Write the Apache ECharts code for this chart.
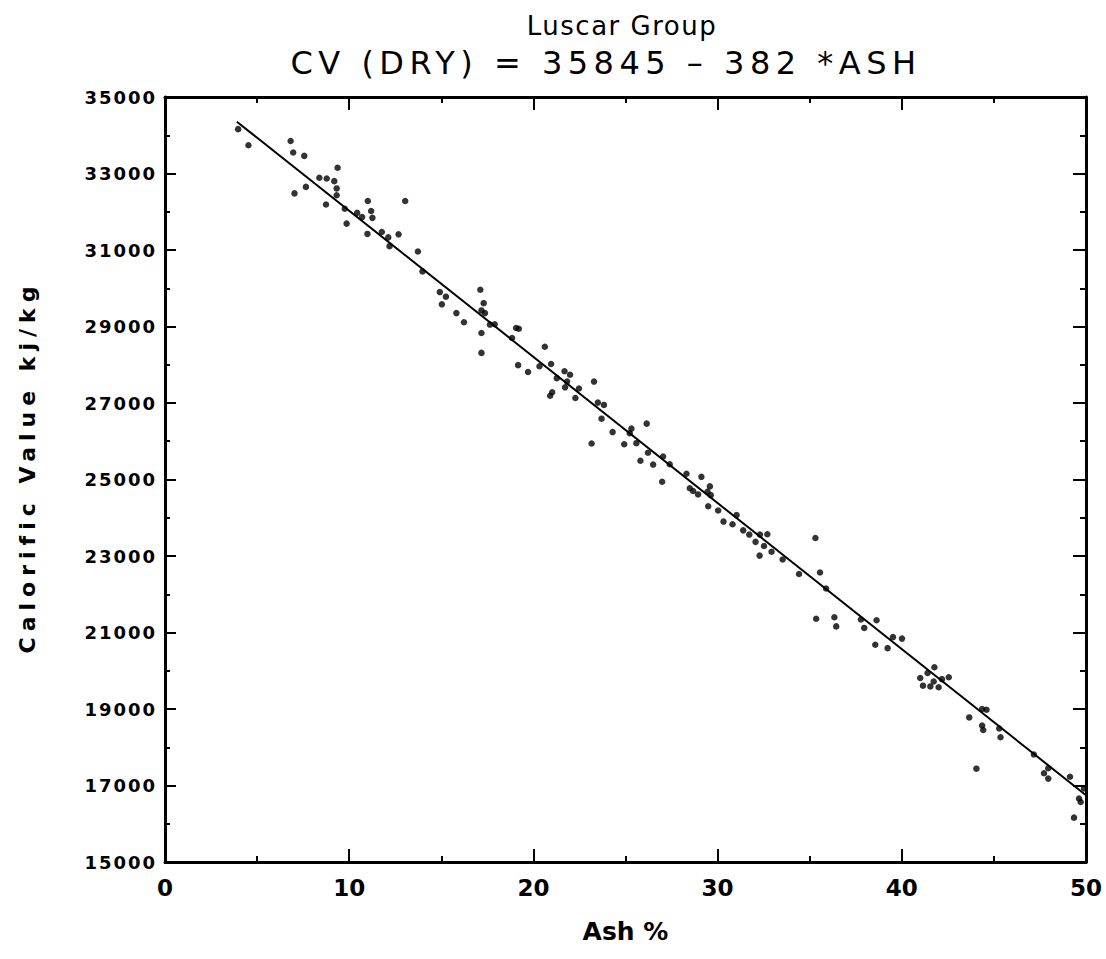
<!DOCTYPE html>
<html>
<head>
<meta charset="utf-8">
<title>Luscar Group</title>
<script src="https://cdn.jsdelivr.net/npm/echarts@6/dist/echarts.min.js"></script>
<style>
  html, body { margin: 0; padding: 0; background: #fff; }
  #chart { width: 1106px; height: 959px; }
  /* plotter-style wide lettering, keyed on each text role's font size */
  #chart text[style*="26px"] { letter-spacing: 1.5px; }
  #chart text[style*="32px"] { letter-spacing: 5.5px; }
  #chart text[style*="18px"] { letter-spacing: 2px; }
  #chart text[style*="22px"] { letter-spacing: 6px; }
</style>
</head>
<body>
<div id="chart"></div>
<script>
// Ash content (%) of each sample
const ash = [
  3.97, 4.53, 6.82, 6.96, 7.56, 7.03, 7.65, 8.38, 8.78, 9.19,
  9.37, 9.32, 9.32, 8.74, 9.76, 9.86, 10.43, 10.70, 11.01, 11.19,
  11.26, 10.99, 11.77, 12.12, 12.19, 12.68, 13.04, 13.73, 13.98, 14.92,
  15.25, 15.03, 15.82, 16.23, 17.12, 17.30, 17.18, 17.37, 17.18, 17.18,
  17.64, 17.90, 19.06, 19.21, 18.84, 19.17, 19.71, 20.62, 20.33, 20.96,
  21.27, 21.69, 21.99, 21.72, 21.83, 20.91, 21.02, 22.47, 22.28, 23.29,
  23.50, 23.83, 23.70, 24.30, 23.16, 24.93, 25.32, 25.23, 25.59, 26.15,
  26.22, 25.81, 26.50, 27.04, 27.40, 26.99, 28.31, 29.12, 28.49, 29.58,
  28.67, 28.94, 29.45, 29.63, 29.49, 30.03, 30.32, 30.81, 31.03, 31.39,
  31.72, 32.06, 32.28, 32.30, 32.70, 32.52, 32.93, 33.53, 34.42, 35.31,
  35.56, 35.89, 35.35, 36.34, 36.44, 37.78, 37.96, 38.63, 39.52, 40.01,
  38.56, 39.23, 41.00, 41.15, 41.40, 41.77, 41.55, 41.73, 42.00, 42.18,
  42.55, 43.66, 44.36, 44.60, 44.36, 44.42, 45.29, 45.36, 44.05, 47.17,
  47.72, 47.95, 47.95, 49.13, 49.89, 49.62, 49.71, 49.35
];

// Calorific value (dry basis, kJ/kg) of each sample
const cv = [
  34160, 33740, 33850, 33550, 33460, 32480, 32650, 32890, 32870, 32800,
  33150, 32610, 32430, 32190, 32080, 31690, 31970, 31860, 32280, 32020,
  31840, 31420, 31470, 31330, 31100, 31410, 32280, 30960, 30440, 29900,
  29780, 29580, 29350, 29110, 29960, 29610, 29420, 29350, 28830, 28310,
  29050, 29060, 28960, 28940, 28700, 27990, 27810, 28470, 27960, 28020,
  27650, 27830, 27740, 27410, 27560, 27190, 27280, 27380, 27130, 27560,
  27010, 26950, 26590, 26240, 25940, 25920, 26330, 26210, 25950, 26460,
  25700, 25490, 25390, 25600, 25400, 24940, 25150, 25070, 24770, 24820,
  24700, 24610, 24680, 24590, 24300, 24190, 23900, 23830, 24070, 23670,
  23560, 23370, 23010, 23560, 23570, 23260, 23110, 22910, 22530, 23470,
  22570, 22150, 21360, 21400, 21160, 21340, 21120, 21320, 20880, 20840,
  20680, 20590, 19810, 19610, 19940, 20090, 19590, 19720, 19570, 19780,
  19830, 18780, 19000, 18980, 18570, 18450, 18490, 18260, 17440, 17810,
  17320, 17450, 17180, 17230, 16920, 16660, 16570, 16160
];

// Least-squares fit printed in the heading: CV = 35845 - 382 * ASH
const fitIntercept = 35845;
const fitSlope = -382;
const fitAshRange = [3.9, 50];

// Axis ranges and tick steps
const xRange = [0, 50];
const xStep = 10;
const yRange = [15000, 35000];
const yStep = 2000;

const ink = '#000';
const points = ash.map((a, i) => [a, cv[i]]);
const fitLine = fitAshRange.map(a => [a, fitIntercept + fitSlope * a]);

function frameAxis(extra) {
  return Object.assign({
    type: 'value',
    axisLine: { show: true, onZero: false, lineStyle: { color: ink, width: 3 } },
    axisTick: { show: true, inside: true, length: 13, lineStyle: { color: ink, width: 2 } },
    minorTick: { show: true, splitNumber: 2, length: 6, lineStyle: { color: ink, width: 2 } },
    splitLine: { show: false },
    minorSplitLine: { show: false }
  }, extra);
}

const chart = echarts.init(document.getElementById('chart'), null, { renderer: 'svg' });

chart.setOption({
  animation: false,
  backgroundColor: '#fff',
  grid: { left: 165, right: 20, top: 97, bottom: 97 },
  graphic: [
    {
      type: 'text', x: 622, y: 26,
      style: {
        text: 'Luscar Group', fill: ink, fontSize: 26,
        fontFamily: 'DejaVu Sans', textAlign: 'center', textVerticalAlign: 'middle'
      }
    },
    {
      type: 'text', x: 606, y: 63,
      style: {
        text: 'CV (DRY) = 35845 \u2013 382 *ASH', fill: ink, fontSize: 32,
        fontFamily: 'DejaVu Sans', textAlign: 'center', textVerticalAlign: 'middle'
      }
    },
    {
      // vertical axis title, reading bottom to top
      type: 'text', x: 27, y: 467, rotation: Math.PI / 2,
      style: {
        text: 'Calorific Value kj/kg', fill: ink, fontSize: 22, fontWeight: 'bold',
        fontFamily: 'DejaVu Sans', textAlign: 'center', textVerticalAlign: 'middle'
      }
    }
  ],
  xAxis: [
    frameAxis({
      position: 'bottom', min: xRange[0], max: xRange[1], interval: xStep,
      name: 'Ash %', nameLocation: 'middle', nameGap: 57,
      nameTextStyle: { color: ink, fontSize: 25, fontWeight: 'bold', fontFamily: 'DejaVu Sans' },
      axisLabel: {
        show: true, margin: 14, color: ink, fontSize: 23, fontWeight: 'bold',
        fontFamily: 'DejaVu Sans', formatter: v => String(v)
      }
    }),
    frameAxis({
      position: 'top', min: xRange[0], max: xRange[1], interval: xStep,
      axisLabel: { show: false }
    })
  ],
  yAxis: [
    frameAxis({
      position: 'left', min: yRange[0], max: yRange[1], interval: yStep,
      axisTick: { show: true, inside: true, length: 11, lineStyle: { color: ink, width: 2 } },
      minorTick: { show: true, splitNumber: 2, length: 5, lineStyle: { color: ink, width: 2 } },
      axisLabel: {
        show: true, margin: 8, color: ink, fontSize: 18, fontWeight: 'bold',
        fontFamily: 'DejaVu Sans', formatter: v => String(v)
      }
    }),
    frameAxis({
      position: 'right', min: yRange[0], max: yRange[1], interval: yStep,
      axisLabel: { show: false }
    })
  ],
  series: [
    {
      type: 'line',
      data: fitLine,
      xAxisIndex: 0, yAxisIndex: 0,
      symbol: 'none',
      lineStyle: { color: ink, width: 2 },
      silent: true,
      z: 2
    },
    {
      type: 'scatter',
      data: points,
      xAxisIndex: 0, yAxisIndex: 0,
      symbol: 'circle',
      symbolSize: 6.5,
      itemStyle: { color: ink },
      silent: true,
      z: 3
    }
  ]
});
</script>
</body>
</html>
